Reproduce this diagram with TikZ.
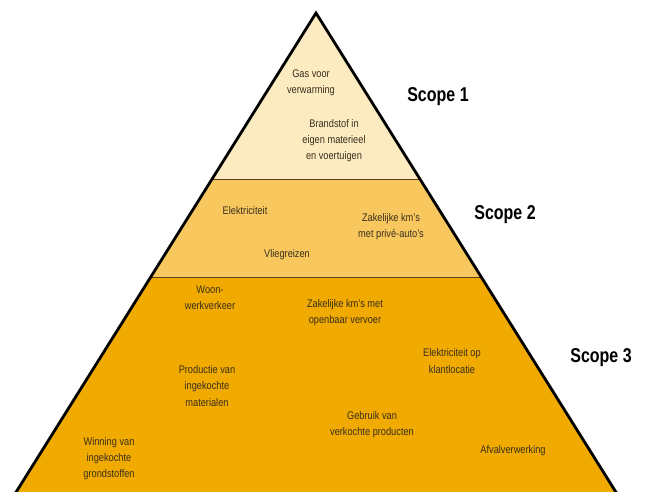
\documentclass[tikz,border=0pt]{standalone}
\usepackage{fontspec}
\setmainfont{Liberation Sans}
\newfontfamily\condfont[FakeStretch=0.84]{Liberation Sans}
\newfontfamily\scopefont[FakeStretch=0.8]{Liberation Sans}
\definecolor{topc}{HTML}{FCEBC0}
\definecolor{midc}{HTML}{F8C85E}
\definecolor{botc}{HTML}{F0AA00}
\definecolor{divc}{HTML}{5A4020}
\definecolor{txtc}{HTML}{3A2E1E}
\begin{document}
\begin{tikzpicture}[x=1pt,y=-1pt,
  lbl/.style={font=\condfont\fontsize{11}{16.3}\selectfont, align=center, text=txtc, inner sep=0pt},
  scopelbl/.style={font=\scopefont\bfseries\fontsize{20}{22}\selectfont, text=black, inner sep=0pt},
  divider/.style={draw=divc, line width=1pt},
  outline/.style={draw=black, line width=2.8pt, line join=miter}]
\useasboundingbox (0,0) rectangle (647,491);
\begin{scope}
\clip (0,0) rectangle (647,491);
\coordinate (apex) at (316,13);
\coordinate (l1) at (212.1,179);
\coordinate (r1) at (419.9,179);
\coordinate (l2) at (150.4,277.5);
\coordinate (r2) at (481.6,277.5);
\coordinate (l3) at (8,505);
\coordinate (r3) at (624,505);
\fill[botc] (l2) -- (r2) -- (r3) -- (l3) -- cycle;
\fill[midc] (l1) -- (r1) -- (r2) -- (l2) -- cycle;
\fill[topc] (apex) -- (r1) -- (l1) -- cycle;
\draw[divider] (l1) -- (r1);
\draw[divider] (l2) -- (r2);
\draw[outline] (l3) -- (apex) -- (r3);
\end{scope}
\node[lbl] (gas) at (311,82.5) {Gas voor\\verwarming};
\node[lbl] (brand) at (334,140.5) {Brandstof in\\eigen materieel\\en voertuigen};
\node[scopelbl] (s1) at (438,97) {Scope 1};
\node[lbl] (elek) at (245,211) {Elektriciteit};
\node[lbl] (zak1) at (391,226.5) {Zakelijke km’s\\met privé-auto’s};
\node[lbl] (vlieg) at (287,255) {Vliegreizen};
\node[scopelbl] (s2) at (505,215) {Scope 2};
\node[lbl] (woon) at (210,298) {Woon-\\werkverkeer};
\node[lbl] (zak2) at (345,312.5) {Zakelijke km’s met\\openbaar vervoer};
\node[lbl] (elek2) at (452,361) {Elektriciteit op\\klantlocatie};
\node[scopelbl] (s3) at (601,358) {Scope 3};
\node[lbl] (prod) at (207,386) {Productie van\\ingekochte\\materialen};
\node[lbl] (gebr) at (372,424.5) {Gebruik van\\verkochte producten};
\node[lbl] (afval) at (513,451) {Afvalverwerking};
\node[lbl] (winn) at (109,458.5) {Winning van\\ingekochte\\grondstoffen};
\end{tikzpicture}
\end{document}
